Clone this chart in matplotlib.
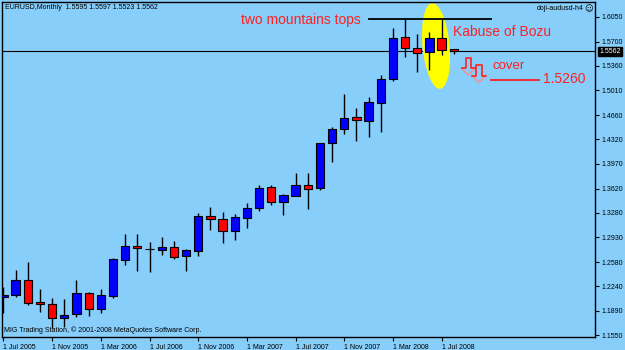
import matplotlib
matplotlib.use("Agg")
import matplotlib.pyplot as plt
import numpy as np
from matplotlib.patches import Ellipse
from matplotlib.transforms import ScaledTranslation

# monthly EURUSD candles, Jul 2005 .. Aug 2008
opens = [1.2088, 1.2120, 1.2335, 1.2020, 1.1985, 1.1786, 1.1847, 1.2140, 1.1914, 1.2102,
         1.2611, 1.2809, 1.2768, 1.2757, 1.2795, 1.2672, 1.2743, 1.3234, 1.3191, 1.3022,
         1.3210, 1.3351, 1.3644, 1.3436, 1.3521, 1.3677, 1.3626, 1.4263, 1.4461, 1.4635,
         1.4578, 1.4837, 1.5173, 1.5763, 1.5607, 1.5550, 1.5749, 1.5595]
highs = [1.2233, 1.2470, 1.2580, 1.2200, 1.2078, 1.2059, 1.2324, 1.2163, 1.2201, 1.2635,
         1.2975, 1.2975, 1.2862, 1.2941, 1.2876, 1.2767, 1.3272, 1.3366, 1.3295, 1.3258,
         1.3414, 1.3673, 1.3673, 1.3545, 1.3847, 1.3838, 1.4271, 1.4489, 1.4960, 1.4758,
         1.4914, 1.5229, 1.5890, 1.6022, 1.5805, 1.5833, 1.6022, 1.5597]
lows = [1.1866, 1.2090, 1.1970, 1.1870, 1.1650, 1.1663, 1.1800, 1.1819, 1.1857, 1.2074,
        1.2541, 1.2460, 1.2446, 1.2682, 1.2621, 1.2460, 1.2672, 1.3036, 1.2856, 1.2894,
        1.3060, 1.3309, 1.3390, 1.3248, 1.3521, 1.3333, 1.3602, 1.4002, 1.4394, 1.4295,
        1.4348, 1.4427, 1.5144, 1.5488, 1.5276, 1.5300, 1.5512, 1.5523]
closes = [1.2116, 1.2335, 1.2010, 1.1985, 1.1789, 1.1833, 1.2140, 1.1914, 1.2116, 1.2625,
          1.2809, 1.2777, 1.2765, 1.2800, 1.2658, 1.2753, 1.3234, 1.3187, 1.3022, 1.3220,
          1.3351, 1.3630, 1.3436, 1.3535, 1.3677, 1.3612, 1.4263, 1.4465, 1.4625, 1.4588,
          1.4843, 1.5173, 1.5749, 1.5607, 1.5536, 1.5749, 1.5583, 1.5562]

date_labels = ["1 Jul 2005", "1 Nov 2005", "1 Mar 2006", "1 Jul 2006", "1 Nov 2006",
               "1 Mar 2007", "1 Jul 2007", "1 Nov 2007", "1 Mar 2008", "1 Jul 2008"]
price_ticks = [1.6050, 1.5700, 1.5360, 1.5010, 1.4660, 1.4320, 1.3970,
               1.3620, 1.3280, 1.2930, 1.2580, 1.2240, 1.1890, 1.1550]
last_price = 1.5562

BG = "#87CEFA"
plt.rcParams["font.family"] = ["Liberation Sans", "DejaVu Sans"]

fig = plt.figure(figsize=(6.25, 3.5), dpi=100, facecolor=BG)
ax = fig.add_axes([2/625, 13/350, 593/625, 335/350], facecolor=BG)

o = np.array(opens); h = np.array(highs); l = np.array(lows); c = np.array(closes)
x = np.arange(len(o))
up = c >= o
ax.vlines(x, l, h, color="black", lw=1, zorder=2)
ax.bar(x, np.abs(c - o), bottom=np.minimum(o, c), width=0.68,
       color=np.where(up, "#0000FF", "#FF0000"), edgecolor="black", lw=0.8, zorder=3)

ax.set_xlim(-0.12, 48.6)
ax.set_ylim(1.1522, 1.6262)

for s in ax.spines.values():
    s.set_color("black"); s.set_linewidth(1)

ax.yaxis.tick_right()
ax.set_yticks(price_ticks)
ax.set_yticklabels([f"{p:.4f}" for p in price_ticks])
ax.tick_params(axis="y", direction="out", length=3, width=0.8, labelsize=5, pad=2)
ax.set_xticks(np.arange(0, 37, 4))
ax.set_xticklabels(date_labels, ha="left")
ax.tick_params(axis="x", direction="out", length=3, width=0.8, labelsize=5, pad=2)

# current price line and label
ax.axhline(last_price, color="black", lw=0.8, zorder=1)
ax.annotate(f"{last_price:.4f}", xy=(1, last_price), xycoords=("axes fraction", "data"),
            xytext=(4, 0), textcoords="offset pixels", ha="left", va="center",
            fontsize=5, color="white",
            bbox=dict(boxstyle="square,pad=0.15", fc="black", ec="black"))

# header / footer texts
ax.annotate("EURUSD,Monthly  %.4f %.4f %.4f %.4f" % (opens[-1], highs[-1], lows[-1], closes[-1]),
            xy=(0, 1), xycoords="axes fraction", xytext=(3, -2), textcoords="offset pixels",
            ha="left", va="top", fontsize=5)
ax.annotate("doji-audusd-h4", xy=(1, 1), xycoords="axes fraction", xytext=(-11, -3),
            textcoords="offset pixels", ha="right", va="top", fontsize=5)
ax.annotate("\u263A", xy=(1, 1), xycoords="axes fraction", xytext=(-2, -2),
            textcoords="offset pixels", ha="right", va="top", fontsize=6, family="DejaVu Sans")
ax.annotate("MIG Trading Station, \u00A9 2001-2008 MetaQuotes Software Corp.", xy=(0, 0),
            xycoords="axes fraction", xytext=(2, 3), textcoords="offset pixels",
            ha="left", va="bottom", fontsize=5)

# annotations
ax.plot([30.0, 40.06], [1.6022, 1.6022], color="black", lw=1.3, zorder=4)
ax.text(24.45, 1.6008, "two mountains tops", color="#FF2020", fontsize=10, ha="center", va="center")
ax.text(36.93, 1.5831, "Kabuse of Bozu", color="#FF2020", fontsize=10, ha="left", va="center")
ax.text(40.14, 1.5357, "cover", color="#FF2020", fontsize=9.5, ha="left", va="center")
ax.text(44.33, 1.5173, "1.5260", color="#FF2020", fontsize=10, ha="left", va="center")
ax.plot([40.06, 44.0], [1.5159, 1.5159], color="#FF2020", lw=1.3)

ell_tr = fig.dpi_scale_trans + ScaledTranslation(35.54, 1.5640, ax.transData)
ax.add_patch(Ellipse((0, 0), 0.27, 0.86, angle=5.4, transform=ell_tr,
                     facecolor="#FFFF00", edgecolor="none", zorder=1.5))

# hollow down arrows (shaft red, head pink)
for ax_i, ax_p in [(38.19, 1.5470), (39.06, 1.5364)]:
    tr = fig.dpi_scale_trans + ScaledTranslation(ax_i, ax_p, ax.transData)
    shaft = np.array([[-6.75, -10.3], [-2.75, -10.3], [-2.75, 0], [2.75, 0],
                      [2.75, -10.3], [6.75, -10.3]]) / 100
    head = np.array([[-6.75, -10.3], [0, -17], [6.75, -10.3]]) / 100
    ax.plot(head[:, 0], head[:, 1], color="#FF8C8C", lw=1.0, transform=tr)
    ax.plot(shaft[:, 0], shaft[:, 1], color="#FF2020", lw=1.2, transform=tr)

fig.savefig("out.png", dpi=100, facecolor=BG)
